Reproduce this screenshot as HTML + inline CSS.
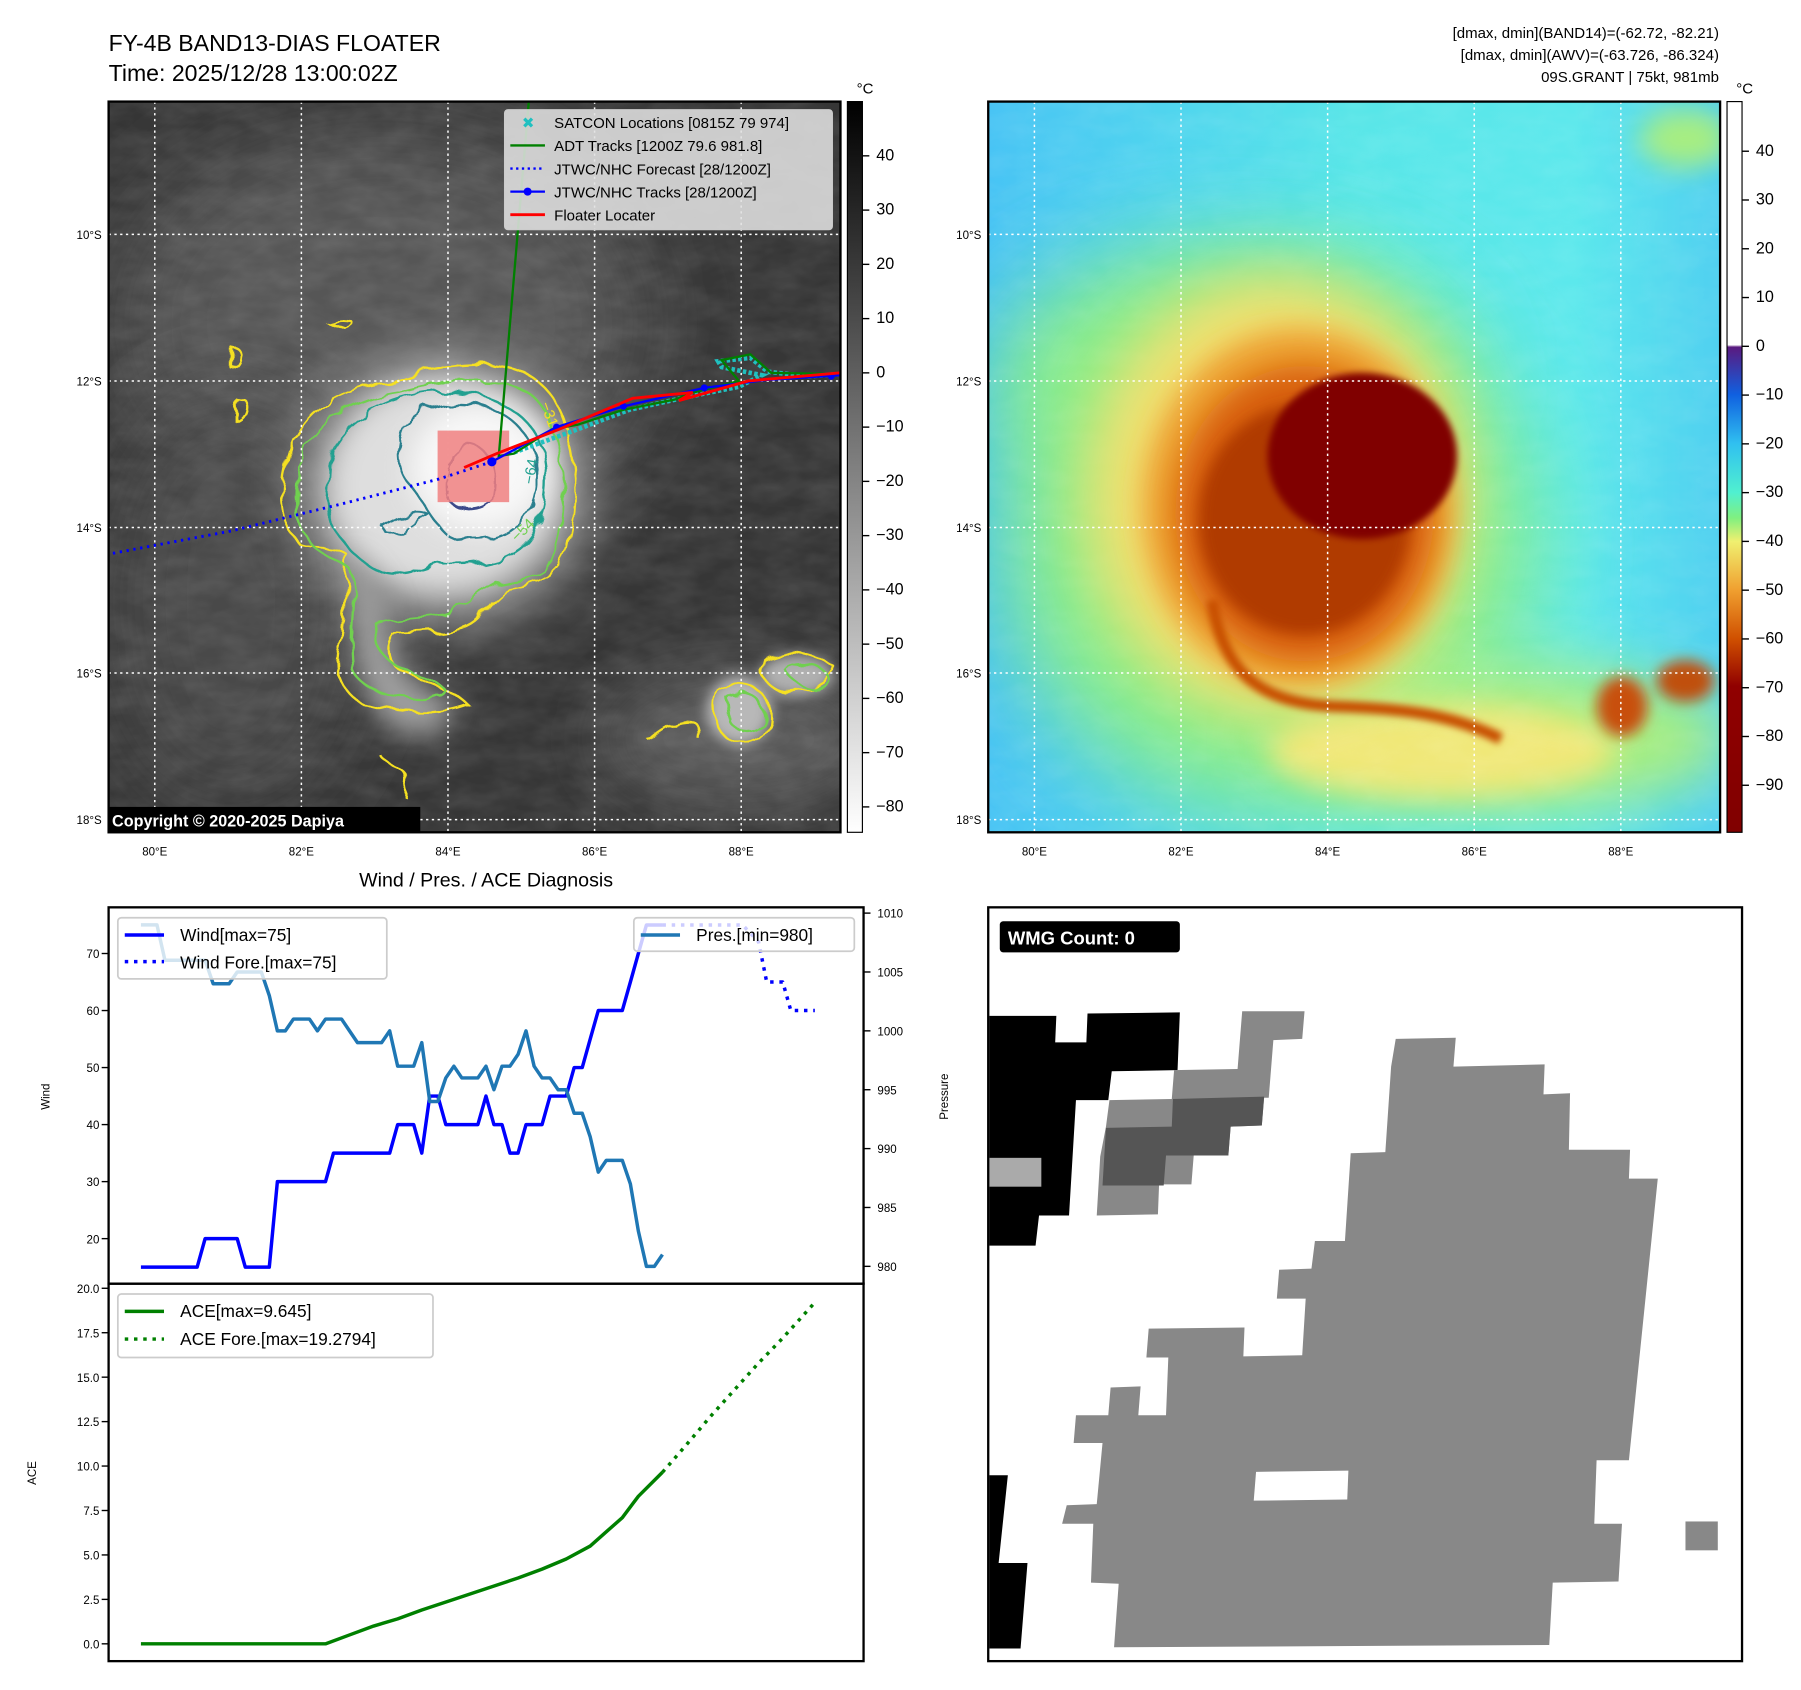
<!DOCTYPE html>
<html><head><meta charset="utf-8"><style>
html,body{margin:0;padding:0;background:#fff;}
svg{display:block;font-family:"Liberation Sans","DejaVu Sans",sans-serif;}
</style></head><body>
<svg id="root" width="1801" height="1690" viewBox="0 0 1560 1464" xmlns="http://www.w3.org/2000/svg">
<defs>
<filter id="b40" x="-50%" y="-50%" width="200%" height="200%"><feGaussianBlur stdDeviation="40"/></filter>
<filter id="b25" x="-50%" y="-50%" width="200%" height="200%"><feGaussianBlur stdDeviation="25"/></filter>
<filter id="b12" x="-50%" y="-50%" width="200%" height="200%"><feGaussianBlur stdDeviation="12"/></filter>
<filter id="b6" x="-50%" y="-50%" width="200%" height="200%"><feGaussianBlur stdDeviation="6"/></filter>
<filter id="b3" x="-50%" y="-50%" width="200%" height="200%"><feGaussianBlur stdDeviation="3"/></filter>
<filter id="wig" x="-20%" y="-20%" width="140%" height="140%"><feTurbulence type="fractalNoise" baseFrequency="0.05" numOctaves="2" seed="3"/><feDisplacementMap in="SourceGraphic" scale="12"/></filter>
<filter id="noise" x="0" y="0" width="100%" height="100%"><feTurbulence type="fractalNoise" baseFrequency="0.03 0.06" numOctaves="3" seed="7"/><feColorMatrix type="matrix" values="0 0 0 0 1  0 0 0 0 1  0 0 0 0 1  0 0 0 -1.2 0.9"/></filter>
<clipPath id="c1"><rect x="94" y="88" width="634" height="633"/></clipPath>
<clipPath id="c2"><rect x="856" y="88" width="634" height="633"/></clipPath>
<linearGradient id="g1" x1="0" y1="0" x2="0" y2="1"><stop offset="0" stop-color="#000"/><stop offset="1" stop-color="#fff"/></linearGradient>
<linearGradient id="g2" x1="0" y1="0" x2="0" y2="1">
<stop offset="0" stop-color="#fff"/><stop offset="0.333" stop-color="#fff"/><stop offset="0.336" stop-color="#5a1a80"/>
<stop offset="0.401" stop-color="#1060e0"/><stop offset="0.468" stop-color="#30c0f0"/><stop offset="0.535" stop-color="#50f0d0"/>
<stop offset="0.57" stop-color="#80f080"/><stop offset="0.602" stop-color="#f0f070"/><stop offset="0.668" stop-color="#f0a030"/>
<stop offset="0.735" stop-color="#d05000"/><stop offset="0.80" stop-color="#900000"/><stop offset="1" stop-color="#800000"/></linearGradient>
<linearGradient id="lg2" x1="0" y1="0" x2="1" y2="0"><stop offset="0" stop-color="#48c4f4"/><stop offset="0.5" stop-color="#58e6e8"/><stop offset="0.8" stop-color="#5ce8ec"/><stop offset="1" stop-color="#50d0f0"/></linearGradient>
</defs>

<text x="94" y="44" font-size="20">FY-4B BAND13-DIAS FLOATER</text>
<text x="94" y="70" font-size="20">Time: 2025/12/28 13:00:02Z</text>
<text x="1489" y="33" font-size="13" text-anchor="end">[dmax, dmin](BAND14)=(-62.72, -82.21)</text>
<text x="1489" y="52" font-size="13" text-anchor="end">[dmax, dmin](AWV)=(-63.726, -86.324)</text>
<text x="1489" y="71" font-size="13" text-anchor="end">09S.GRANT | 75kt, 981mb</text>

<g clip-path="url(#c1)">
<rect x="94" y="88" width="634" height="633" fill="#363636"/>
<ellipse cx="330" cy="280" rx="230" ry="170" fill="#565656" filter="url(#b40)"/>
<ellipse cx="200" cy="520" rx="110" ry="180" fill="#4a4a4a" filter="url(#b40)"/>
<ellipse cx="640" cy="640" rx="120" ry="60" fill="#5a5a5a" filter="url(#b25)"/>
<rect x="94" y="88" width="634" height="633" filter="url(#noise)" opacity="0.12"/>
<ellipse cx="385" cy="425" rx="125" ry="115" fill="#a8a8a8" filter="url(#b25)"/>
<ellipse cx="385" cy="420" rx="100" ry="92" fill="#dedede" filter="url(#b12)"/>
<ellipse cx="415" cy="405" rx="60" ry="55" fill="#f8f8f8" filter="url(#b12)"/>
<path d="M305,480 C300,560 310,620 350,635 C380,645 405,620 390,605 C350,595 335,560 335,520 Z" fill="#a0a0a0" filter="url(#b12)"/>
<ellipse cx="640" cy="615" rx="28" ry="30" fill="#b8b8b8" filter="url(#b6)"/>
<ellipse cx="690" cy="585" rx="32" ry="18" fill="#b0b0b0" filter="url(#b6)"/>
<g fill="none" stroke-width="2" filter="url(#wig)">
<path stroke="#f5e020" d="M250,395 C260,355 300,335 340,330 C370,318 410,312 440,318 C470,325 488,350 492,380 C500,410 500,440 492,470 C488,495 470,505 440,510 C420,520 420,540 395,545 C380,550 360,548 340,550 C330,565 340,580 355,585 C380,595 395,600 405,610 C380,620 340,618 315,610 C295,600 290,580 295,560 C300,530 300,500 300,480 C290,470 270,475 258,470 C245,455 240,430 250,395 Z"/>
<path stroke="#f5e020" d="M560,640 C580,620 610,615 605,640 M330,655 C340,670 360,660 350,690 M285,280 C300,275 315,280 300,285 Z M620,600 C630,590 660,590 665,610 C670,640 650,650 630,640 C620,630 615,615 620,600 Z M660,570 C680,560 700,565 720,575 C725,590 700,600 680,600 C665,595 655,585 660,570 Z M205,345 C215,340 218,360 205,365 Z M200,300 C210,298 210,315 200,318 Z"/>
<path stroke="#70d050" d="M262,400 C270,365 310,345 345,340 C380,330 420,326 448,335 C472,345 482,370 485,395 C490,430 488,460 478,485 C470,498 450,502 430,505 C410,515 400,530 380,532 C360,535 340,535 325,540 C320,560 335,575 360,585 C385,592 395,600 370,605 C340,606 315,600 305,580 C300,550 308,520 305,495 C295,485 270,480 262,460 C255,440 256,420 262,400 Z M630,605 C640,595 660,600 662,620 C660,635 640,638 632,625 Z M680,580 C690,572 715,575 720,590 C710,600 690,598 680,580 Z"/>
<path stroke="#20a090" d="M285,400 C290,370 330,345 370,340 C420,335 460,355 470,390 C478,425 470,460 450,475 C430,490 400,492 380,488 C360,495 345,500 330,495 C305,485 285,460 283,430 Z"/>
<path stroke="#2a7f8e" d="M350,370 C360,355 385,345 410,350 C440,355 462,375 465,405 C468,440 450,465 420,468 C400,470 385,465 380,455 C370,445 365,430 355,420 C345,410 342,390 350,370 Z M330,455 C345,445 360,440 370,445 C355,455 345,465 335,462 Z"/>
<path stroke="#3b4a8a" d="M392,395 C400,385 412,385 420,392 C430,400 430,420 428,430 C420,442 400,444 390,435 C385,425 388,410 392,395 Z"/>
</g>
<text x="468" y="350" font-size="13" fill="#f5e020" transform="rotate(70 468 350)">−31</text>
<text x="462" y="420" font-size="13" fill="#20a090" transform="rotate(-80 462 420)">−64</text>
<text x="448" y="470" font-size="13" fill="#70d050" transform="rotate(-45 448 470)">−54</text>
<g stroke="#fff" stroke-width="1.3" stroke-dasharray="2,3">
<line x1="134" y1="88" x2="134" y2="721"/><line x1="261" y1="88" x2="261" y2="721"/><line x1="388" y1="88" x2="388" y2="721"/><line x1="515" y1="88" x2="515" y2="721"/><line x1="642" y1="88" x2="642" y2="721"/>
<line x1="94" y1="203" x2="728" y2="203"/><line x1="94" y1="330" x2="728" y2="330"/><line x1="94" y1="457" x2="728" y2="457"/><line x1="94" y1="583" x2="728" y2="583"/><line x1="94" y1="710" x2="728" y2="710"/>
</g>
<rect x="379" y="373" width="62" height="62" fill="#f08080" opacity="0.85"/>
<polyline points="426,400 380,415 298,436 200,460 94,480" fill="none" stroke="#0000ff" stroke-width="2.5" stroke-dasharray="2,4"/>
<polyline points="445,392 500,372 545,355 590,345 640,335 660,325 625,318 622,313 650,310 665,322 700,326 728,324" fill="none" stroke="#20c0c0" stroke-width="4" stroke-dasharray="3,2"/>
<polyline points="458,88 432,395 445,393 478,372 500,368 540,355 585,346 600,340 640,330 625,312 650,307 668,323 728,324" fill="none" stroke="#008000" stroke-width="2"/>
<polyline points="426,400 482,370 540,352 610,336 665,329 728,325" fill="none" stroke="#0000ff" stroke-width="2"/>
<g fill="#0000ff"><circle cx="426" cy="400" r="4"/><circle cx="482" cy="370" r="3"/><circle cx="540" cy="352" r="3"/><circle cx="610" cy="336" r="3"/><circle cx="720" cy="326" r="3"/></g>
<polyline points="402,405 430,393 484,372 548,345 600,340 588,347 648,330 728,323" fill="none" stroke="#ff0000" stroke-width="2.5"/>
<g>
<rect x="437" y="95" width="284" height="104" rx="3" fill="#e0e0e0" fill-opacity="0.88" stroke="#ccc"/>
<text x="452" y="111" font-size="13" fill="#20c0c0" font-weight="bold">✖</text>
<line x1="442" y1="126" x2="472" y2="126" stroke="#008000" stroke-width="2"/>
<line x1="442" y1="146" x2="472" y2="146" stroke="#0000ff" stroke-width="2" stroke-dasharray="2,3"/>
<line x1="442" y1="166" x2="472" y2="166" stroke="#0000ff" stroke-width="2"/><circle cx="457" cy="166" r="3.5" fill="#0000ff"/>
<line x1="442" y1="186" x2="472" y2="186" stroke="#ff0000" stroke-width="2.5"/>
<g font-size="13"><text x="480" y="111">SATCON Locations [0815Z 79 974]</text><text x="480" y="131">ADT Tracks [1200Z 79.6 981.8]</text><text x="480" y="151">JTWC/NHC Forecast [28/1200Z]</text><text x="480" y="171">JTWC/NHC Tracks [28/1200Z]</text><text x="480" y="191">Floater Locater</text></g>
</g>
<rect x="94" y="699" width="270" height="22" fill="#000"/>
<text x="97" y="716" font-size="14" font-weight="bold" fill="#fff">Copyright © 2020-2025 Dapiya</text>
</g>
<rect x="94" y="88" width="634" height="633" fill="none" stroke="#000" stroke-width="2"/>

<g clip-path="url(#c2)">
<rect x="856" y="88" width="634" height="633" fill="url(#lg2)"/>
<ellipse cx="1060" cy="330" rx="200" ry="110" fill="#88ec88" filter="url(#b40)"/>
<ellipse cx="1100" cy="470" rx="230" ry="230" fill="#8cee84" filter="url(#b40)"/>
<ellipse cx="1300" cy="640" rx="200" ry="65" fill="#a8ee80" filter="url(#b25)"/>
<ellipse cx="1250" cy="650" rx="150" ry="40" fill="#f0e878" filter="url(#b12)"/>
<rect x="856" y="88" width="634" height="633" filter="url(#noise)" opacity="0.1"/>
<ellipse cx="1105" cy="430" rx="165" ry="190" fill="#f2e070" filter="url(#b25)"/>
<ellipse cx="1125" cy="440" rx="135" ry="155" fill="#eda030" filter="url(#b12)"/>
<ellipse cx="1130" cy="445" rx="112" ry="128" fill="#d86008" filter="url(#b12)"/>
<ellipse cx="1130" cy="450" rx="92" ry="100" fill="#b03a00" filter="url(#b6)"/>
<path d="M1050,520 C1060,590 1100,610 1160,612 C1220,614 1260,620 1300,640" fill="none" stroke="#c85000" stroke-width="10" filter="url(#b3)"/>
<ellipse cx="1180" cy="395" rx="82" ry="72" fill="#800000" filter="url(#b3)"/>
<ellipse cx="1405" cy="612" rx="22" ry="26" fill="#c85010" filter="url(#b6)"/>
<ellipse cx="1460" cy="590" rx="25" ry="18" fill="#c05010" filter="url(#b6)"/>
<ellipse cx="1460" cy="120" rx="40" ry="25" fill="#a8ee80" filter="url(#b12)"/>
<g stroke="#fff" stroke-width="1.3" stroke-dasharray="2,3">
<line x1="896" y1="88" x2="896" y2="721"/><line x1="1023" y1="88" x2="1023" y2="721"/><line x1="1150" y1="88" x2="1150" y2="721"/><line x1="1277" y1="88" x2="1277" y2="721"/><line x1="1404" y1="88" x2="1404" y2="721"/>
<line x1="856" y1="203" x2="1490" y2="203"/><line x1="856" y1="330" x2="1490" y2="330"/><line x1="856" y1="457" x2="1490" y2="457"/><line x1="856" y1="583" x2="1490" y2="583"/><line x1="856" y1="710" x2="1490" y2="710"/>
</g>
</g>
<rect x="856" y="88" width="634" height="633" fill="none" stroke="#000" stroke-width="2"/>

<g font-size="10">
<g text-anchor="end"><text x="88" y="207">10°S</text><text x="88" y="334">12°S</text><text x="88" y="461">14°S</text><text x="88" y="587">16°S</text><text x="88" y="714">18°S</text>
<text x="850" y="207">10°S</text><text x="850" y="334">12°S</text><text x="850" y="461">14°S</text><text x="850" y="587">16°S</text><text x="850" y="714">18°S</text></g>
<g text-anchor="middle"><text x="134" y="741">80°E</text><text x="261" y="741">82°E</text><text x="388" y="741">84°E</text><text x="515" y="741">86°E</text><text x="642" y="741">88°E</text>
<text x="896" y="741">80°E</text><text x="1023" y="741">82°E</text><text x="1150" y="741">84°E</text><text x="1277" y="741">86°E</text><text x="1404" y="741">88°E</text></g>
</g>

<rect x="734" y="88" width="13" height="633" fill="url(#g1)" stroke="#000"/>
<text x="742" y="81" font-size="13">°C</text>
<g font-size="14" id="cb1"></g>
<rect x="1496" y="88" width="13" height="633" fill="url(#g2)" stroke="#000"/>
<text x="1504" y="81" font-size="13">°C</text>
<g font-size="14" id="cb2"></g>

<text x="421" y="768" font-size="17" text-anchor="middle">Wind / Pres. / ACE Diagnosis</text>
<g id="chart"></g>
<rect x="94" y="786" width="654" height="326" fill="none" stroke="#000" stroke-width="2"/>
<rect x="94" y="1112" width="654" height="327" fill="none" stroke="#000" stroke-width="2"/>
<text x="43" y="950" font-size="10" transform="rotate(-90 43 950)" text-anchor="middle">Wind</text>
<text x="821" y="950" font-size="10" transform="rotate(-90 821 950)" text-anchor="middle">Pressure</text>
<text x="31" y="1276" font-size="10" transform="rotate(-90 31 1276)" text-anchor="middle">ACE</text>
<g>
<rect x="102" y="795" width="233" height="53" rx="3" fill="#fff" fill-opacity="0.8" stroke="#ccc" stroke-width="1.5"/>
<line x1="108" y1="810" x2="142" y2="810" stroke="#0000ff" stroke-width="3"/>
<line x1="108" y1="833" x2="142" y2="833" stroke="#0000ff" stroke-width="3" stroke-dasharray="3,5"/>
<text x="156" y="815" font-size="15">Wind[max=75]</text><text x="156" y="839" font-size="15">Wind Fore.[max=75]</text>
</g>
<g>
<rect x="549" y="795" width="191" height="29" rx="3" fill="#fff" fill-opacity="0.8" stroke="#ccc" stroke-width="1.5"/>
<line x1="555" y1="810" x2="589" y2="810" stroke="#1f77b4" stroke-width="3"/>
<text x="603" y="815" font-size="15">Pres.[min=980]</text>
</g>
<g>
<rect x="102" y="1121" width="273" height="55" rx="3" fill="#fff" fill-opacity="0.8" stroke="#ccc" stroke-width="1.5"/>
<line x1="108" y1="1136" x2="142" y2="1136" stroke="#008000" stroke-width="3"/>
<line x1="108" y1="1160" x2="142" y2="1160" stroke="#008000" stroke-width="3" stroke-dasharray="3,5"/>
<text x="156" y="1141" font-size="15">ACE[max=9.645]</text><text x="156" y="1165" font-size="15">ACE Fore.[max=19.2794]</text>
</g>

<g>
<rect x="856" y="786" width="653" height="653" fill="#fff"/>
<polygon fill="#888" points="1209,900 1261,899 1259,924 1338,922 1337,948 1360,947 1359,996 1412,996 1411,1021 1436,1021 1411,1265 1383,1265 1381,1320 1405,1320 1402,1370 1345,1371 1342,1425 965,1427 969,1372 945,1371 947,1320 920,1320 924,1304 950,1303 955,1250 930,1250 932,1226 960,1226 962,1202 988,1201 986,1226 1010,1226 1012,1176 993,1176 995,1151 1078,1150 1077,1175 1128,1174 1131,1125 1106,1125 1108,1100 1136,1099 1139,1075 1165,1075 1170,999 1200,998 1205,924"/>
<polygon fill="#fff" points="1088,1275 1168,1274 1167,1299 1086,1300"/>
<rect x="1460" y="1318" width="28" height="25" fill="#888"/>
<polygon fill="#000" points="857,880 915,880 914,903 941,903 942,878 1022,877 1020,927 963,928 960,953 932,953 926,1053 900,1053 897,1079 857,1079"/>
<rect x="857" y="1003" width="45" height="25" fill="#aaa"/>
<polygon fill="#888" points="1076,876 1130,876 1128,900 1103,901 1099,951 1095,951 1093,975 1066,976 1064,1001 1034,1001 1032,1026 1004,1026 1003,1052 950,1053 953,1002 958,976 961,953 1015,952 1017,927 1072,926"/>
<polygon fill="#555" points="958,977 1015,976 1016,952 1095,950 1093,975 1066,976 1064,1001 1010,1001 1008,1027 955,1027"/>
<polygon fill="#000" points="857,1278 873,1278 865,1354 890,1354 884,1428 857,1428"/>
<rect x="866" y="798" width="156" height="27" rx="3" fill="#000"/>
<text x="873" y="818" font-size="16" font-weight="bold" fill="#fff">WMG Count: 0</text>
<rect x="856" y="786" width="653" height="653" fill="none" stroke="#000" stroke-width="2"/>
</g>
</svg>
<script>
const windX = [0,1,2,3,4,5,6,7,8,9,10,11,12,13,14,15,16,17,18,19,20,21,22,23,24,25,26,27,28,29,30,31,32,33,34,35,36,37,38,39,40,41,42,43,44,45,46,47,48,49,50,51,52,53,54,55,56,57,58,59,60,61,62,63,64,65];
const windVals = [15,15,15,15,15,15,15,15,20,20,20,20,20,15,15,15,15,30,30,30,30,30,30,30,35,35,35,35,35,35,35,35,40,40,40,35,45,45,40,40,40,40,40,45,40,40,35,35,40,40,40,45,45,45,50,50,55,60,60,60,60,65,70,75,75,75];
const presVals = [1009,1009,1009,1006,1006,1006,1006,1006,1006,1004,1004,1004,1005,1005,1005,1005,1003,1000,1000,1001,1001,1001,1000,1001,1001,1001,1000,999,999,999,999,1000,997,997,997,999,994,994,996,997,996,996,996,997,995,997,997,998,1000,997,996,996,995,995,993,993,991,988,989,989,989,987,983,980,980,981];
const windForeX = [65,70,75,77,78,80,81,84];
const windForeVals = [75,75,75,72,65,65,60,60];
const aceX = [0,23,26,29,32,35,39,42,45,47,50,53,56,58,60,62,65];
const aceVals = [0,0,0.5,1.0,1.4,1.9,2.5,2.95,3.4,3.7,4.2,4.77,5.5,6.3,7.1,8.3,9.65];
const aceForeX = [65,68,71,74,77,80,84];
const aceForeVals = [9.65,11.2,12.8,14.3,15.8,17.2,19.2];
const windTicks = [20,30,40,50,60,70];
const presTicks = [980,985,990,995,1000,1005,1010];
const aceTicks = [0,2.5,5,7.5,10,12.5,15,17.5,20];
const cb1Ticks = [40,30,20,10,0,-10,-20,-30,-40,-50,-60,-70,-80];
const cb2Ticks = [40,30,20,10,0,-10,-20,-30,-40,-50,-60,-70,-80,-90];

const NS='http://www.w3.org/2000/svg';
const xS = i => 122 + 6.95*i;
const yW = w => 826 + (70-w)*4.94;
const yP = p => 791 + (1010-p)*10.2;
const yA = a => 1424 - a*15.4;
const yC1 = v => 135 + (40-v)*4.7;
const yC2 = v => 300 - v*4.225;
function mk(tag, attrs, parent){const e=document.createElementNS(NS,tag);for(const k in attrs)e.setAttribute(k,attrs[k]);parent.appendChild(e);return e;}
const chart=document.getElementById('chart');
function line(xs, ys, fx, fy, stroke, dash, name){
  const pts=xs.map((x,i)=>fx(x).toFixed(1)+','+fy(ys[i]).toFixed(1)).join(' ');
  const el=mk('polyline',{points:pts,fill:'none',stroke:stroke,'stroke-width':3,'stroke-dasharray':dash||'none','stroke-linejoin':'round'},chart);
  
  
}
line(windX, windVals, xS, yW, '#0000ff', null, 'wind-line');
line(windForeX, windForeVals, xS, yW, '#0000ff', '3,5', 'wind-forecast-line');
line(windX, presVals, xS, yP, '#1f77b4', null, 'pressure-line');
line(aceX, aceVals, xS, yA, '#008000', null, 'ace-line');
line(aceForeX, aceForeVals, xS, yA, '#008000', '3,5', 'ace-forecast-line');
function ticks(vals, fy, x0, dir, anchor, fmt, parent, fs){
  vals.forEach(v=>{
    const y=fy(v);
    const t=mk('line',{x1:x0,y1:y,x2:x0+dir*6,y2:y,stroke:'#000','stroke-width':1.2},parent);
    
    
    const tx=mk('text',{x:x0+dir*(anchor==='end'?8:12),y:y+4,'font-size':fs,'text-anchor':anchor},parent);
    
    
    tx.textContent=fmt(v);
  });
}
ticks(windTicks, yW, 94, -1, 'end', v=>String(v), chart, 10);
ticks(presTicks, yP, 748, 1, 'start', v=>String(v), chart, 10);
ticks(aceTicks, yA, 94, -1, 'end', v=>v.toFixed(1), chart, 10);
const minus=v=>v<0?'\u2212'+Math.abs(v):String(v);
ticks(cb1Ticks, yC1, 747, 1, 'start', minus, document.getElementById('cb1'), 14);
ticks(cb2Ticks, yC2, 1509, 1, 'start', minus, document.getElementById('cb2'), 14);
</script>
</body></html>
